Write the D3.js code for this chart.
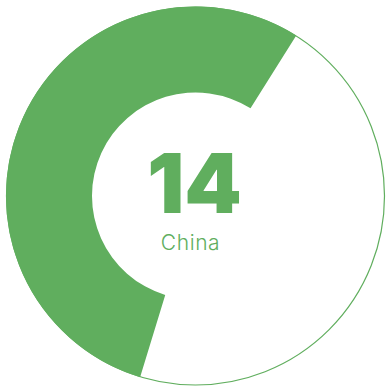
<!DOCTYPE html>
<html>
<head>
<meta charset="utf-8">
<script src="https://cdn.jsdelivr.net/npm/d3@7"></script>
<style>
  html, body { margin: 0; padding: 0; background: #ffffff; }
  svg { display: block; }
</style>
</head>
<body>
<svg id="chart" width="386" height="389"></svg>
<script>
// Donut gauge: share of the ring filled, plus the headline figure and label
const categories = ["China", "Rest"];
const shares = [54.2, 45.8];
const headline = ["14"];
const labels = ["China"];

const color = "#60ae5e";
const width = 386, height = 389;
const cx = 195.5, cy = 196;
const outerR = 189.5, innerR = 103.5;
const startDeg = -163;   // ring starts just left of six o'clock and runs clockwise

const svg = d3.select("#chart");
const g = svg.append("g").attr("transform", `translate(${cx},${cy})`);

// thin outline of the full ring
g.append("circle")
  .attr("r", outerR - 0.5)
  .attr("fill", "none")
  .attr("stroke", color)
  .attr("stroke-width", 1.2);

const pie = d3.pie()
  .sort(null)
  .value(d => d)
  .startAngle(startDeg * Math.PI / 180)
  .endAngle((startDeg + 360) * Math.PI / 180);

const arc = d3.arc().innerRadius(innerR).outerRadius(outerR);

g.selectAll("path.slice")
  .data(pie(shares))
  .join("path")
  .attr("class", "slice")
  .attr("d", arc)
  .attr("fill", (d, i) => i === 0 ? color : "none");

g.append("text")
  .attr("x", -1)
  .attr("y", 17)
  .attr("text-anchor", "middle")
  .attr("font-family", "Inter, 'DejaVu Sans', sans-serif")
  .attr("font-weight", 900)
  .attr("font-size", 82)
  .attr("fill", color)
  .text(headline[0]);

g.append("text")
  .attr("x", -5)
  .attr("y", 54)
  .attr("text-anchor", "middle")
  .attr("font-family", "Inter, 'DejaVu Sans', sans-serif")
  .attr("font-weight", 300)
  .attr("font-size", 21)
  .attr("letter-spacing", 0.6)
  .attr("fill", color)
  .text(labels[0]);
</script>
</body>
</html>
